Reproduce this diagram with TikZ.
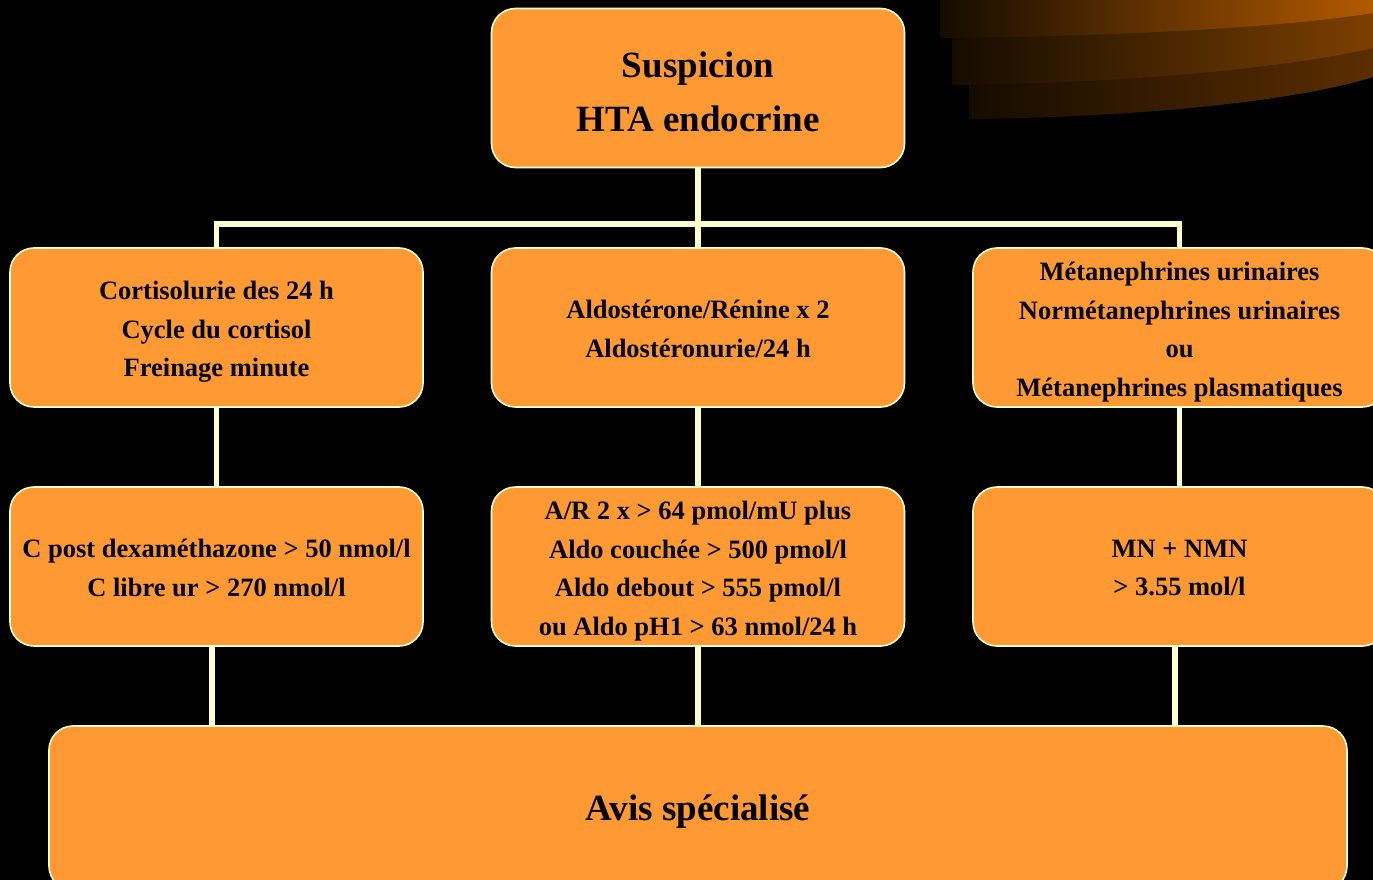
\documentclass[tikz,border=0pt]{standalone}
\usepackage{fontspec}
\setmainfont{Liberation Serif}
\definecolor{boxfill}{HTML}{FF9933}
\definecolor{linec}{HTML}{FFFFCC}
\definecolor{bandA}{HTML}{B35A00}
\definecolor{bandB}{HTML}{7C4000}
\definecolor{bandC}{HTML}{5C2E00}
\definecolor{bandL}{HTML}{150C00}
\tikzset{
  flowbox/.style={draw=linec, line width=1.6pt, fill=boxfill, rounded corners=24pt,
    minimum width=413pt, minimum height=159pt, inner sep=0pt},
  boxtext/.style={align=center, text=black, inner sep=0pt, yshift=-4.5pt,
    font=\fontsize{26.5}{38.7}\selectfont\bfseries},
  boxtexttwo/.style={align=center, text=black, inner sep=0pt, yshift=-1.5pt,
    font=\fontsize{26.5}{38.7}\selectfont\bfseries},
  bigtext/.style={align=center, text=black, inner sep=0pt, yshift=-3.5pt,
    font=\fontsize{37}{54}\selectfont\bfseries},
  conn/.style={draw=linec, line width=5.5pt}
}
\begin{document}
\begin{tikzpicture}[x=1pt,y=-1pt]
\fill[black] (0,0) rectangle (1373,880);
\clip (0,0) rectangle (1373,880);
% decoration bands top right
\shade[left color=bandL, right color=bandC] (969,0) -- (969,119) .. controls (1150,117) and (1300,100) .. (1373,77) -- (1373,0) -- cycle;
\shade[left color=bandL, right color=bandB] (952,0) -- (952,85) .. controls (1150,83) and (1300,65) .. (1373,48) -- (1373,0) -- cycle;
\shade[left color=bandL, right color=bandA] (940,0) -- (940,38) .. controls (1150,36) and (1300,25) .. (1373,13) -- (1373,0) -- cycle;
% boxes
\node[flowbox, label={[bigtext]center:{Suspicion\\HTA endocrine}}] (top) at (698,88) {};
\node[flowbox, label={[boxtext]center:{Cortisolurie des 24 h\\Cycle du cortisol\\Freinage minute}}] (a1) at (216.5,327.5) {};
\node[flowbox, label={[boxtexttwo]center:{Aldostérone/Rénine x 2\\Aldostéronurie/24 h}}] (a2) at (698,327.5) {};
\node[flowbox, label={[boxtext]center:{Métanephrines urinaires\\Normétanephrines urinaires\\ou\\Métanephrines plasmatiques}}] (a3) at (1179.5,327.5) {};
\node[flowbox, label={[boxtexttwo]center:{C post dexaméthazone > 50 nmol/l\\C libre ur > 270 nmol/l}}] (b1) at (216.5,566.5) {};
\node[flowbox, label={[boxtext]center:{A/R 2 x > 64 pmol/mU plus\\Aldo couchée > 500 pmol/l\\Aldo debout > 555 pmol/l\\ou Aldo pH1 > 63 nmol/24 h}}] (b2) at (698,566.5) {};
\node[flowbox, label={[boxtexttwo]center:{MN + NMN\\> 3.55 mol/l}}] (b3) at (1179.5,566.5) {};
\node[flowbox, minimum width=1298pt, minimum height=164pt, label={[bigtext]center:{Avis spécialisé}}] (c) at (698,808) {};
% connectors
\coordinate (j) at (698,224);
\draw[conn] (top.south) -- (a2.north);
\draw[conn] (a1.north) -- (a1.north |- j) -- (a3.north |- j) -- (a3.north);
\draw[conn] (a1.south) -- (b1.north);
\draw[conn] (a2.south) -- (b2.north);
\draw[conn] (a3.south) -- (b3.north);
\draw[conn] ([xshift=-4.5pt]b1.south) -- ([xshift=-4.5pt]b1.south |- c.north);
\draw[conn] (b2.south) -- (b2.south |- c.north);
\draw[conn] ([xshift=-4.5pt]b3.south) -- ([xshift=-4.5pt]b3.south |- c.north);
\end{tikzpicture}
\end{document}
